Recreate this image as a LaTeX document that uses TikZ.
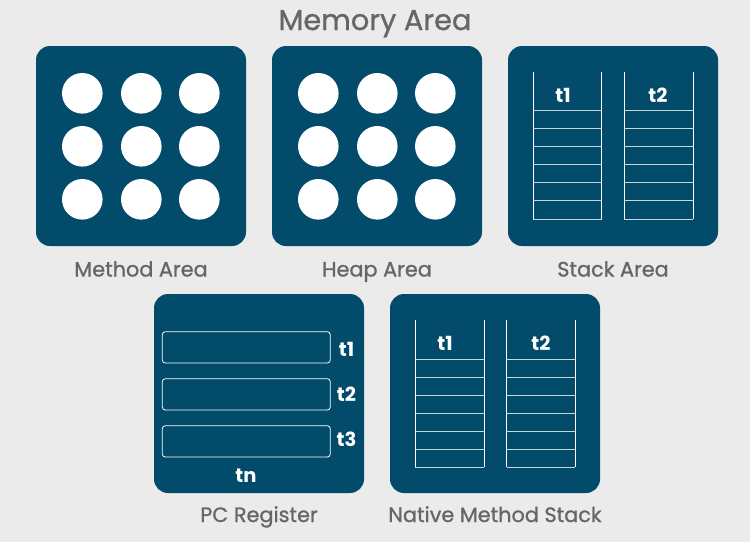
\documentclass[tikz,border=0pt]{standalone}
\usepackage{fontspec}
\setmainfont{Poppins}
\newfontfamily\medfont{Poppins}[FakeBold=1]
\definecolor{bg}{HTML}{EBEBEB}
\definecolor{box}{HTML}{034B6B}
\definecolor{lbl}{HTML}{666666}
\definecolor{rowline}{HTML}{C9D6DD}
\begin{document}
\begin{tikzpicture}[x=1pt,y=-1pt,
  area/.style={fill=box, rounded corners=14pt},
  dot/.style={circle, fill=white, minimum size=40.6pt, inner sep=0pt},
  caption/.style={text=lbl, anchor=base, inner sep=0pt, font=\medfont\fontsize{20.8}{22}\selectfont},
  tlabel/.style={text=white, anchor=base, inner sep=0pt, font=\bfseries\fontsize{19.5}{21}\selectfont},
  slot/.style={draw=white, line width=0.8pt, rounded corners=3pt},
  vline/.style={draw=white, line width=1pt},
  hline/.style={draw=rowline, line width=1pt}]
\fill[bg] (0,0) rectangle (750,542);
\useasboundingbox (0,0) rectangle (750,542);

\node[text=lbl, anchor=base, inner sep=0pt, font=\medfont\fontsize{28.8}{30}\selectfont] (title) at (375,30) {Memory Area};

% boxes
\fill[area] (36,46) rectangle (246,246);
\fill[area] (272,46) rectangle (482,246);
\fill[area] (508,46) rectangle (718,246);
\fill[area] (154,294) rectangle (364,493);
\fill[area] (390,294) rectangle (600,493);

% dots
\foreach \bx/\nm in {0/m,236/h}{
  \foreach \cx [count=\i] in {82.3,141.3,199.3}{
    \foreach \cy [count=\j] in {93.3,146.3,199.3}{
      \node[dot] (\nm\i\j) at (\bx+\cx,\cy) {};
    }
  }
}

% stack columns
\foreach \xl/\xr/\yt/\yh/\nm in {533.3/601.7/72.3/110.7/sa, 624.3/693/72.3/110.7/sb, 415.3/484/320/359/na, 506.7/575.3/320/359/nb}{
  \foreach \k in {0,...,6}{
    \draw[hline] (\xl,\yh+\k*18.05) -- (\xr,\yh+\k*18.05);
  }
  \draw[vline] (\xl,\yt) -- (\xl,\yh+6*18.05);
  \draw[vline] (\xr,\yt) -- (\xr,\yh+6*18.05);
}
\node[tlabel] (st1) at (563,102.3) {t1};
\node[tlabel] (st2) at (658,102.3) {t2};
\node[tlabel] (nt1) at (445,350) {t1};
\node[tlabel] (nt2) at (541,350) {t2};

% PC register
\draw[slot] (162.3,331.7) rectangle (330.3,363);
\draw[slot] (162.3,378.7) rectangle (330.3,410);
\draw[slot] (162.3,425.7) rectangle (330.3,457);
\node[tlabel] (p1) at (346.5,356.5) {t1};
\node[tlabel] (p2) at (346.5,401.5) {t2};
\node[tlabel] (p3) at (346.5,446.5) {t3};
\node[tlabel] (pn) at (246,482.5) {tn};

% captions
\node[caption] (c1) at (141,276.5) {Method Area};
\node[caption] (c2) at (377,276.5) {Heap Area};
\node[caption] (c3) at (613,276.5) {Stack Area};
\node[caption] (c4) at (259,522) {PC Register};
\node[caption] (c5) at (495,522) {Native Method Stack};
\end{tikzpicture}
\end{document}
